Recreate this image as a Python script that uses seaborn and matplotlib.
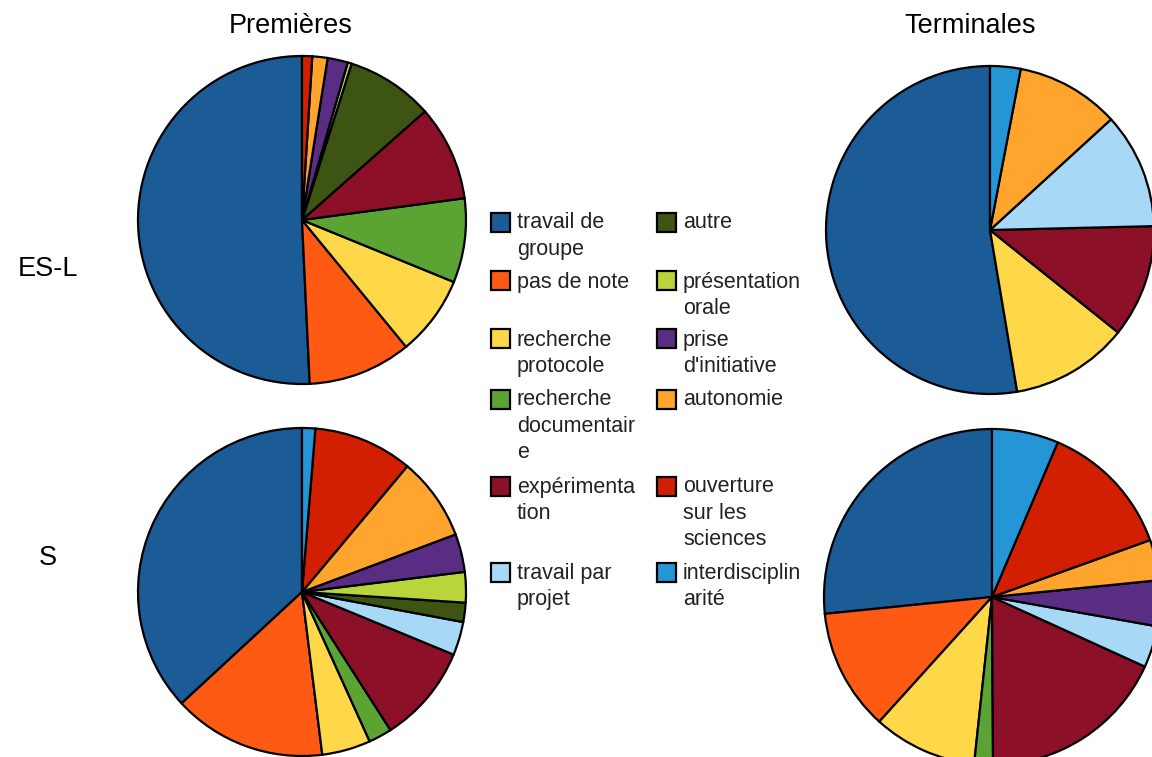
import matplotlib
matplotlib.use("Agg")
import matplotlib.pyplot as plt
import seaborn as sns
from matplotlib.patches import Rectangle

# ---------------- data ----------------
categories = [
    "travail de groupe", "pas de note", "recherche protocole",
    "recherche documentaire", "expérimentation", "travail par projet",
    "autre", "présentation orale", "prise d'initiative", "autonomie",
    "ouverture sur les sciences", "interdisciplinarité",
]
legend_labels = [
    "travail de\ngroupe", "pas de note", "recherche\nprotocole",
    "recherche\ndocumentair\ne", "expérimenta\ntion", "travail par\nprojet",
    "autre", "présentation\norale", "prise\nd'initiative", "autonomie",
    "ouverture\nsur les\nsciences", "interdisciplin\narité",
]
colors_hex = [
    "#1B5B96", "#FF5A14", "#FFD84A", "#5BA332", "#8C1028", "#A7D9F7",
    "#3D5413", "#B8D53B", "#5A2D84", "#FFA52D", "#D21F02", "#2595D5",
]
premieres_esl = [50.8, 10.2, 7.9, 8.3, 9.4, 0.0, 8.6, 0.4, 2.0, 1.5, 1.0, 0.0]
premieres_s = [36.9, 15.1, 4.8, 2.3, 9.7, 3.3, 1.9, 3.0, 3.75, 8.2, 9.8, 1.3]
terminales_esl = [52.6, 0.0, 11.6, 0.0, 11.1, 11.4, 0.0, 0.0, 0.0, 10.2, 0.0, 3.0]
terminales_s = [26.6, 11.7, 10.0, 1.8, 18.1, 4.0, 0.0, 0.0, 4.4, 3.9, 13.1, 6.4]

col_titles = ["Premières", "Terminales"]
row_titles = ["ES-L", "S"]

# ---------------- style ----------------
sns.set_theme(style="white")
plt.rcParams["font.family"] = ["Liberation Sans", "DejaVu Sans"]
palette = sns.color_palette(colors_hex)

W, H = 1152, 757
fig = plt.figure(figsize=(W / 100, H / 100), dpi=100)
fig.patch.set_facecolor("white")


def fx(px):
    return px / W


def fy(py):
    return 1 - py / H


def draw_pie(values, cx, cy, r):
    ax = fig.add_axes([fx(cx - r), fy(cy + r), 2 * r / W, 2 * r / H])
    vals = [v for v in values if v > 0]
    cols = [palette[i] for i, v in enumerate(values) if v > 0]
    wedges, _ = ax.pie(vals, colors=cols, startangle=90, counterclock=True,
                       radius=1.0,
                       wedgeprops=dict(edgecolor="black", linewidth=1.6))
    for w in wedges:
        w.set_clip_on(False)
    ax.set_xlim(-1, 1)
    ax.set_ylim(-1, 1)
    ax.set_aspect("equal")
    ax.axis("off")


draw_pie(premieres_esl, 302, 220, 164)
draw_pie(premieres_s, 302, 592, 164)
draw_pie(terminales_esl, 990, 230, 164)
draw_pie(terminales_s, 992, 597, 168)

# titles
for title, x in zip(col_titles, [291, 970]):
    fig.text(fx(x), fy(33), title, ha="center", va="baseline", fontsize=19.5,
             color="black")
for label, y in zip(row_titles, [276, 565]):
    fig.text(fx(48), fy(y), label, ha="center", va="baseline", fontsize=19.5,
             color="black")

# legend (two columns, first line aligned per row)
row_centers = [222, 281, 339, 399, 486, 572]
col_sq_x = [491, 657]
col_tx_x = [517, 683]
sq = 19
for i, lab in enumerate(legend_labels):
    c = i // 6
    r = i % 6
    yc = row_centers[r]
    rect = Rectangle((fx(col_sq_x[c]), fy(yc + sq / 2)), sq / W, sq / H,
                     transform=fig.transFigure, facecolor=palette[i],
                     edgecolor="black", linewidth=1.6)
    fig.add_artist(rect)
    fig.text(fx(col_tx_x[c]), fy(yc - 9.5), lab, ha="left", va="top",
             fontsize=15.5, color="#222222", linespacing=1.32)

fig.savefig("out.png", dpi=100, facecolor="white")
